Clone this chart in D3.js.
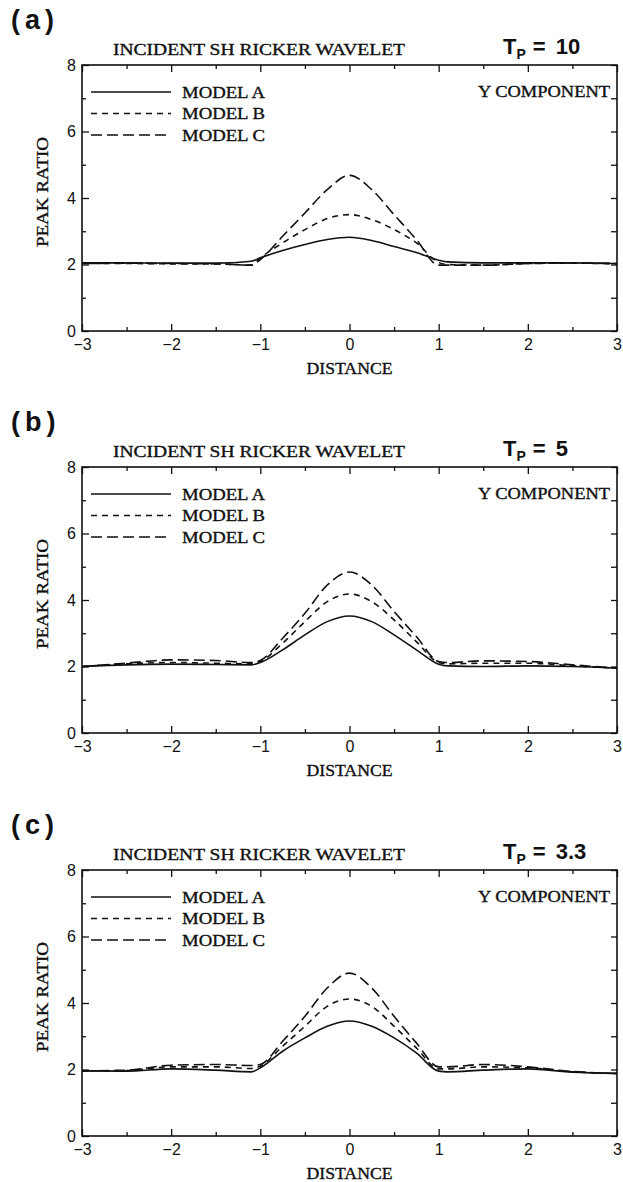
<!DOCTYPE html>
<html>
<head>
<meta charset="utf-8">
<script src="https://cdn.jsdelivr.net/npm/d3@7"></script>
<style>
  body { margin: 0; background: #fff; }
  svg { display: block; }
  .serif { font-family: "Liberation Serif", "DejaVu Serif", serif; fill: #111; stroke: #111; stroke-width: 0.35; }
  .sans { font-family: "Liberation Sans", Arial, sans-serif; fill: #111; }
  .tick text { font-family: "Liberation Sans", Arial, sans-serif; font-size: 16px; fill: #111; }
  .tick line { stroke: #111; stroke-width: 1.3; }
</style>
</head>
<body>
<svg id="fig" width="623" height="1182"></svg>
<script>
(function() {

// sample positions along the profile (same for every panel)
const distance = [-3, -2.5, -2, -1.5, -1.1, -1, -0.75, -0.5, -0.25, 0, 0.25, 0.5, 0.75, 1, 1.1, 1.5, 2, 2.5, 3];

const panelLetters = ["a", "b", "c"];
const periods = ["10", "5", "3.3"];
const modelNames = ["MODEL A", "MODEL B", "MODEL C"];

// peak ratio, Tp = 10
const tp10ModelA = [2.05, 2.05, 2.04, 2.04, 2.10, 2.20, 2.42, 2.60, 2.75, 2.82, 2.72, 2.54, 2.36, 2.13, 2.08, 2.05, 2.05, 2.05, 2.03];
const tp10ModelB = [2.03, 2.03, 2.02, 2.02, 1.98, 2.20, 2.65, 3.05, 3.38, 3.50, 3.35, 3.05, 2.65, 2.06, 2.00, 1.98, 2.03, 2.04, 2.02];
const tp10ModelC = [2.03, 2.04, 2.03, 2.02, 1.98, 2.15, 2.85, 3.55, 4.25, 4.68, 4.25, 3.50, 2.75, 1.98, 1.98, 1.98, 2.03, 2.05, 2.03];

// peak ratio, Tp = 5
const tp5ModelA = [2.00, 2.05, 2.07, 2.06, 2.05, 2.12, 2.50, 2.95, 3.35, 3.52, 3.35, 2.95, 2.50, 2.07, 2.02, 2.00, 2.02, 2.00, 1.95];
const tp5ModelB = [2.00, 2.08, 2.12, 2.10, 2.08, 2.15, 2.70, 3.35, 3.95, 4.18, 3.95, 3.40, 2.75, 2.12, 2.08, 2.10, 2.10, 2.02, 1.95];
const tp5ModelC = [2.00, 2.10, 2.20, 2.18, 2.12, 2.18, 2.85, 3.60, 4.45, 4.84, 4.45, 3.65, 2.90, 2.15, 2.12, 2.17, 2.15, 2.05, 1.95];

// peak ratio, Tp = 3.3
const tp33ModelA = [1.96, 1.95, 2.02, 1.98, 1.93, 2.05, 2.55, 2.95, 3.30, 3.46, 3.30, 2.95, 2.50, 1.95, 1.93, 1.98, 2.02, 1.92, 1.88];
const tp33ModelB = [1.96, 1.97, 2.08, 2.08, 2.03, 2.10, 2.70, 3.30, 3.90, 4.12, 3.90, 3.30, 2.65, 2.02, 2.02, 2.08, 2.05, 1.93, 1.88];
const tp33ModelC = [1.96, 1.98, 2.13, 2.15, 2.12, 2.15, 2.85, 3.60, 4.45, 4.90, 4.45, 3.60, 2.80, 2.08, 2.08, 2.15, 2.08, 1.94, 1.88];

const panelSeries = [
    [tp10ModelA, tp10ModelB, tp10ModelC],
    [tp5ModelA, tp5ModelB, tp5ModelC],
    [tp33ModelA, tp33ModelB, tp33ModelC]
];

const xMajor = [-3, -2, -1, 0, 1, 2, 3];
const xMinor = [-2.5, -1.5, -0.5, 0.5, 1.5, 2.5];
const yMajor = [0, 2, 4, 6, 8];
const yMinor = [1, 3, 5, 7];

// solid, short dash, long dash
const dashes = [null, "6,5", "11,5"];

const plotLeft = 82;
const plotRight = 617;
const plotHeight = 266;
const panelTops = [65, 467, 870];

const svg = d3.select("#fig");
const fmt = d3.format("d");

const x = d3.scaleLinear().domain([-3, 3]).range([plotLeft, plotRight]);

panelTops.forEach((top, i) => {
    const bottom = top + plotHeight;
    const y = d3.scaleLinear().domain([0, 8]).range([bottom, top]);
    const g = svg.append("g");

    // panel letter
    g.append("text")
        .attr("class", "sans")
        .attr("x", 11)
        .attr("y", top - 36)
        .attr("font-size", 27)
        .attr("font-weight", "bold")
        .attr("letter-spacing", 5)
        .text(`(${panelLetters[i]})`);

    g.append("text")
        .attr("class", "serif")
        .attr("x", 113)
        .attr("y", top - 10)
        .attr("font-size", 16)
        .attr("textLength", 292)
        .attr("lengthAdjust", "spacingAndGlyphs")
        .text("INCIDENT SH RICKER WAVELET");

    const tp = g.append("text")
        .attr("class", "sans")
        .attr("x", 503)
        .attr("y", top - 11)
        .attr("font-size", 22)
        .attr("font-weight", "bold");
    tp.append("tspan").text("T");
    tp.append("tspan").attr("font-size", 14).attr("dy", 5).text("P");
    tp.append("tspan").attr("dy", -5).attr("dx", 7).text("=");
    tp.append("tspan").attr("dx", 10).text(periods[i]);

    // axes: ticks all point into the box
    g.append("g")
        .attr("transform", `translate(0,${bottom})`)
        .call(d3.axisBottom(x).tickValues(xMajor).tickSize(-7).tickPadding(8).tickFormat(fmt));
    g.append("g")
        .attr("transform", `translate(0,${bottom})`)
        .call(d3.axisBottom(x).tickValues(xMinor).tickSize(-4).tickFormat(""));
    g.append("g")
        .attr("transform", `translate(0,${top})`)
        .call(d3.axisTop(x).tickValues(xMajor).tickSize(-7).tickFormat(""));
    g.append("g")
        .attr("transform", `translate(0,${top})`)
        .call(d3.axisTop(x).tickValues(xMinor).tickSize(-4).tickFormat(""));

    g.append("g")
        .attr("transform", `translate(${plotLeft},0)`)
        .call(d3.axisLeft(y).tickValues(yMajor).tickSize(-7).tickPadding(6).tickFormat(fmt));
    g.append("g")
        .attr("transform", `translate(${plotLeft},0)`)
        .call(d3.axisLeft(y).tickValues(yMinor).tickSize(-4).tickFormat(""));
    g.append("g")
        .attr("transform", `translate(${plotRight},0)`)
        .call(d3.axisRight(y).tickValues(yMajor.concat(yMinor)).tickSize(-6).tickFormat(""));

    g.selectAll(".domain").remove();

    g.append("rect")
        .attr("x", plotLeft)
        .attr("y", top)
        .attr("width", plotRight - plotLeft)
        .attr("height", plotHeight)
        .attr("fill", "none")
        .attr("stroke", "#111")
        .attr("stroke-width", 1.6);

    g.append("text")
        .attr("class", "serif")
        .attr("transform", `translate(48,${top + 127}) rotate(-90)`)
        .attr("text-anchor", "middle")
        .attr("font-size", 16)
        .attr("textLength", 110)
        .attr("lengthAdjust", "spacingAndGlyphs")
        .text("PEAK RATIO");

    g.append("text")
        .attr("class", "serif")
        .attr("x", (plotLeft + plotRight) / 2)
        .attr("y", bottom + 43)
        .attr("text-anchor", "middle")
        .attr("font-size", 16)
        .attr("textLength", 86)
        .attr("lengthAdjust", "spacingAndGlyphs")
        .text("DISTANCE");

    g.append("text")
        .attr("class", "serif")
        .attr("x", 610)
        .attr("y", top + 32)
        .attr("text-anchor", "end")
        .attr("font-size", 16)
        .attr("textLength", 132)
        .attr("lengthAdjust", "spacingAndGlyphs")
        .text("Y COMPONENT");

    // legend
    modelNames.forEach((name, k) => {
        const ly = top + 27 + k * 21.5;
        g.append("line")
            .attr("x1", 91).attr("x2", 171)
            .attr("y1", ly).attr("y2", ly)
            .attr("stroke", "#111")
            .attr("stroke-width", 1.6)
            .attr("stroke-dasharray", dashes[k]);
        g.append("text")
            .attr("class", "serif")
            .attr("x", 182)
            .attr("y", ly + 5.5)
            .attr("font-size", 16)
            .attr("textLength", 83)
            .attr("lengthAdjust", "spacingAndGlyphs")
            .text(name);
    });

    const line = d3.line()
        .x((d, j) => x(distance[j]))
        .y(d => y(d))
        .curve(d3.curveMonotoneX);

    panelSeries[i].forEach((values, k) => {
        g.append("path")
            .attr("d", line(values))
            .attr("fill", "none")
            .attr("stroke", "#111")
            .attr("stroke-width", 1.6)
            .attr("stroke-dasharray", dashes[k]);
    });
});

})();
</script>
</body>
</html>
